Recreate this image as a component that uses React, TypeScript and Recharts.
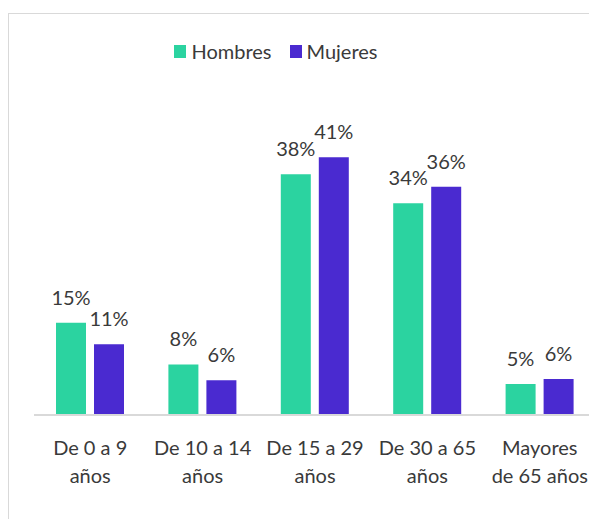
import React from 'react';
import { BarChart, Bar, XAxis, YAxis, Legend, LabelList } from 'recharts';

const categories = ['De 0 a 9 años', 'De 10 a 14 años', 'De 15 a 29 años', 'De 30 a 65 años', 'Mayores de 65 años'];
const tickLines = [
    ['De 0 a 9', 'años'],
    ['De 10 a 14', 'años'],
    ['De 15 a 29', 'años'],
    ['De 30 a 65', 'años'],
    ['Mayores', 'de 65 años'],
];
const hombres = [14.6, 8.0, 38.1, 33.5, 4.9];
const mujeres = [11.2, 5.5, 40.8, 36.1, 5.7];

const GREEN = '#2BD3A0';
const PURPLE = '#4A2AD0';
const TEXT = '#3a3a3a';
const FONT = 'Lato, "Open Sans", sans-serif';

const data = categories.map((c, i) => ({ name: c, Hombres: hombres[i], Mujeres: mujeres[i] }));

const pct = (v: any) => `${Math.round(Number(v))}%`;

const TwoLineTick: React.FC<any> = ({ x, y, index }) => {
    const lines = tickLines[index] || [];
    return (
        <g>
            {lines.map((l, i) => (
                <text key={i} x={x} y={y + 40 + i * 28} textAnchor="middle" fill={TEXT} fontSize={20} fontFamily={FONT}>
                    {l}
                </text>
            ))}
        </g>
    );
};

const LegendContent: React.FC<any> = () => (
    <div style={{ display: 'flex', justifyContent: 'center', alignItems: 'center', fontFamily: FONT, fontSize: 20, color: TEXT, lineHeight: '24px' }}>
        {[['Hombres', GREEN], ['Mujeres', PURPLE]].map(([n, c], i) => (
            <div key={n} style={{ display: 'flex', alignItems: 'center', marginLeft: i ? 18 : 0 }}>
                <span style={{ display: 'inline-block', width: 12, height: 13, background: c, marginRight: 5 }} />
                <span>{n}</span>
            </div>
        ))}
    </div>
);

export default function App() {
    return (
        <div style={{ position: 'relative', width: 589, height: 511 }}>
            <div style={{ position: 'absolute', left: 0, top: 5, width: 589, height: 506, boxSizing: 'border-box', borderLeft: '1px solid #d9d9d9', borderTop: '1px solid #d9d9d9' }} />
            <div style={{ position: 'absolute', left: 0, top: 0 }}>
                <BarChart width={589} height={511} data={data} margin={{ top: 67, right: 1, left: 26, bottom: 34 }} barSize={30} barGap={8}>
                    <XAxis dataKey="name" height={70} tickLine={false} tickSize={0} tickMargin={0} axisLine={{ stroke: '#d9d9d9', strokeWidth: 2 }} tick={<TwoLineTick />} interval={0} />
                    <YAxis hide domain={[0, 50]} />
                    <Legend verticalAlign="top" content={<LegendContent />} wrapperStyle={{ top: 31, left: 0, width: 536 }} />
                    <Bar dataKey="Hombres" fill={GREEN} isAnimationActive={false}>
                        <LabelList dataKey="Hombres" position="top" offset={18} formatter={pct} fill={TEXT} fontSize={20} fontFamily={FONT} />
                    </Bar>
                    <Bar dataKey="Mujeres" fill={PURPLE} isAnimationActive={false}>
                        <LabelList dataKey="Mujeres" position="top" offset={18} formatter={pct} fill={TEXT} fontSize={20} fontFamily={FONT} />
                    </Bar>
                </BarChart>
            </div>
        </div>
    );
}
